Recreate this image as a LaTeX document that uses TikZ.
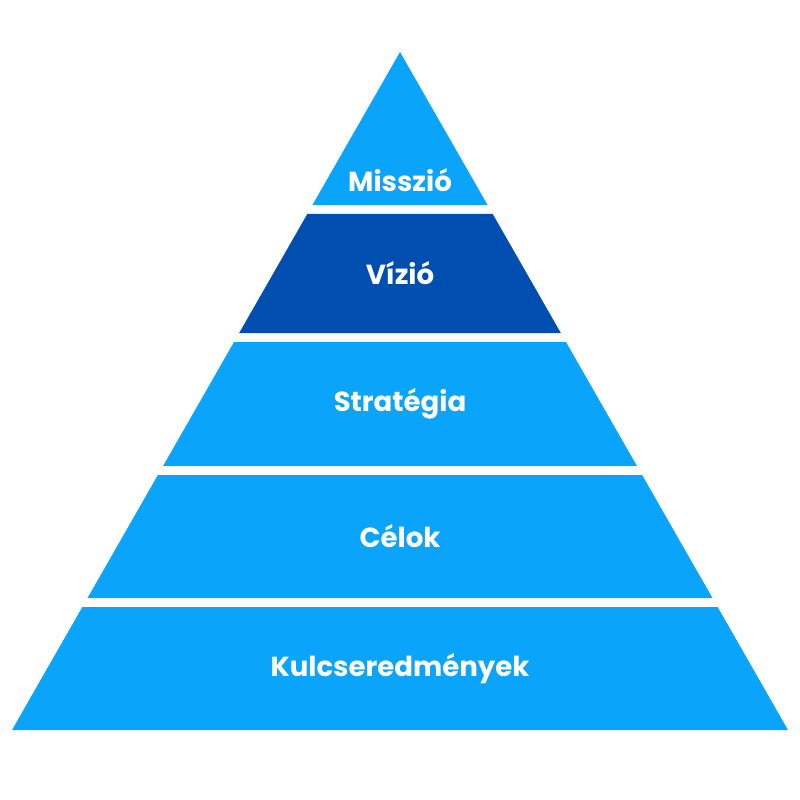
\documentclass[tikz,border=0pt]{standalone}
\usepackage{fontspec}
\setmainfont{Poppins}
\definecolor{lightblue}{HTML}{0AA4FB}
\definecolor{darkblue}{HTML}{004EAF}
\begin{document}
\begin{tikzpicture}[x=0.02cm,y=-0.02cm,
    label/.style={text=white,font=\bfseries\fontsize{15.7}{18}\selectfont}]
  \useasboundingbox (0,0) rectangle (800,800);
  % Layers: top y / bottom y / text / colour
  \foreach \t/\b/\txt/\col/\nm in {52/205/Misszió/lightblue/missio,
                                   214/333/Vízió/darkblue/vizio,
                                   342/466/Stratégia/lightblue/strategia,
                                   475/598/Célok/lightblue/celok,
                                   607/730/Kulcseredmények/lightblue/kulcs}
  {
    \pgfmathsetmacro\wt{0.5723*(\t-52)}
    \pgfmathsetmacro\wb{0.5723*(\b-52)}
    \fill[\col]
       (400-\wt,\t)
    -- (400+\wt,\t)
    -- (400+\wb,\b)
    -- (400-\wb,\b)
    -- cycle;
    \node[label] (\nm) at (400,{\b-(\b-\t)*0.5+(\t==52?52:0)}) {\txt};
  }
\end{tikzpicture}
\end{document}
